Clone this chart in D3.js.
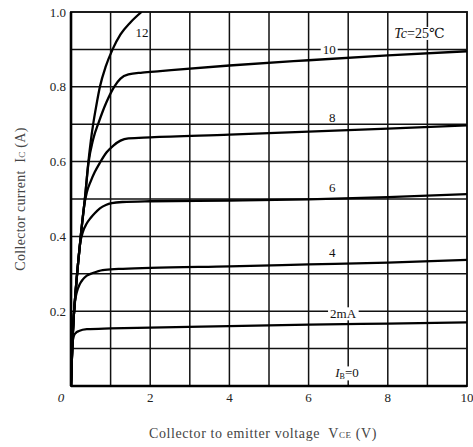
<!DOCTYPE html>
<html>
<head>
<meta charset="utf-8">
<script src="https://cdn.jsdelivr.net/npm/d3@7"></script>
<style>
body { margin: 0; background: #fff; }
svg { display: block; }
text { font-family: "Liberation Serif", "DejaVu Serif", serif; }
</style>
</head>
<body>
<svg width="473" height="447"></svg>
<script>
// tick labels
var vceTicks = [0, 2, 4, 6, 8, 10];
var icTicks = [0.2, 0.4, 0.6, 0.8, 1.0];

// Ic (A) vs Vce (V), one array per base current
var ib2 = [[0, 0], [0.02, 0.07], [0.04, 0.115], [0.07, 0.133], [0.12, 0.142], [0.2, 0.147], [0.4, 0.152], [1, 0.154], [2, 0.156], [4, 0.16], [6, 0.164], [8, 0.167], [10, 0.17]];
var ib4 = [[0, 0], [0.03, 0.1], [0.06, 0.17], [0.1, 0.225], [0.15, 0.252], [0.22, 0.272], [0.3, 0.285], [0.4, 0.295], [0.55, 0.302], [0.8, 0.31], [1.2, 0.313], [2, 0.316], [4, 0.32], [6, 0.325], [8, 0.33], [10, 0.337]];
var ib6 = [[0, 0], [0.03, 0.1], [0.06, 0.17], [0.1, 0.23], [0.18, 0.33], [0.23, 0.38], [0.3, 0.412], [0.4, 0.435], [0.5, 0.45], [0.6, 0.462], [0.73, 0.475], [0.88, 0.484], [1.03, 0.489], [1.3, 0.492], [2, 0.494], [4, 0.496], [6, 0.499], [8, 0.505], [10, 0.513]];
var ib8 = [[0, 0], [0.03, 0.1], [0.06, 0.17], [0.1, 0.23], [0.18, 0.33], [0.26, 0.415], [0.33, 0.48], [0.4, 0.518], [0.5, 0.548], [0.6, 0.572], [0.73, 0.597], [0.9, 0.625], [1.07, 0.643], [1.25, 0.656], [1.45, 0.662], [2, 0.665], [4, 0.672], [6, 0.68], [8, 0.688], [10, 0.697]];
var ib10 = [[0, 0], [0.03, 0.1], [0.06, 0.17], [0.1, 0.23], [0.18, 0.33], [0.26, 0.415], [0.35, 0.5], [0.44, 0.595], [0.56, 0.66], [0.7, 0.705], [0.9, 0.76], [1.09, 0.8], [1.25, 0.822], [1.45, 0.833], [1.8, 0.838], [2.25, 0.842], [4, 0.857], [6, 0.871], [8, 0.884], [10, 0.895]];
var ib12 = [[0, 0], [0.03, 0.1], [0.06, 0.17], [0.1, 0.23], [0.18, 0.33], [0.26, 0.415], [0.35, 0.5], [0.44, 0.6], [0.5, 0.655], [0.56, 0.7], [0.64, 0.75], [0.73, 0.8], [0.88, 0.855], [1.05, 0.9], [1.25, 0.94], [1.5, 0.972], [1.78, 1.0]];

var curveNames = ["2mA", "4", "6", "8", "10", "12"];
// where each name sits, in volts / amps
var namePos = [[6.87, 0.193], [6.6, 0.356], [6.6, 0.53], [6.6, 0.717], [6.52, 0.9], [1.79, 0.944]];

var svg = d3.select("svg"),
    x = d3.scaleLinear().domain([0, 10]).range([71, 467]),
    y = d3.scaleLinear().domain([0, 1]).range([386, 12]);

// grid
var grid = svg.append("g").attr("stroke", "#111").attr("stroke-width", 1.5);
grid.selectAll(".vg")
    .data(x.ticks(10).slice(1, -1))
    .enter().append("line")
    .attr("x1", function (d) { return x(d); })
    .attr("x2", function (d) { return x(d); })
    .attr("y1", y(0)).attr("y2", y(1));
grid.selectAll(".hg")
    .data(y.ticks(10).slice(1, -1))
    .enter().append("line")
    .attr("y1", function (d) { return y(d); })
    .attr("y2", function (d) { return y(d); })
    .attr("x1", x(0)).attr("x2", x(10));

// frame
svg.append("rect")
    .attr("x", x(0)).attr("y", y(1))
    .attr("width", x(10) - x(0)).attr("height", y(0) - y(1))
    .attr("fill", "none").attr("stroke", "#111").attr("stroke-width", 1.9);
svg.append("line")
    .attr("x1", x(0)).attr("x2", x(0)).attr("y1", y(0)).attr("y2", y(1))
    .attr("stroke", "#000").attr("stroke-width", 2.6);
svg.append("line")
    .attr("x1", x(0)).attr("x2", x(10)).attr("y1", y(0)).attr("y2", y(0))
    .attr("stroke", "#000").attr("stroke-width", 2.4);

// tick labels
svg.append("g").selectAll("text")
    .data(icTicks)
    .enter().append("text")
    .attr("x", 66)
    .attr("y", function (d) { return y(d) + 4.5; })
    .attr("text-anchor", "end")
    .attr("font-size", 13)
    .attr("fill", "#222")
    .text(d3.format(".1f"));
svg.append("g").selectAll("text")
    .data(vceTicks)
    .enter().append("text")
    .attr("x", function (d) { return d === 0 ? x(d) - 10 : x(d); })
    .attr("y", 402)
    .attr("text-anchor", "middle")
    .attr("font-size", 13)
    .attr("font-style", function (d) { return d === 0 ? "italic" : "normal"; })
    .attr("fill", "#222")
    .text(function (d) { return d; });

// axis titles
var yt = svg.append("text")
    .attr("transform", "translate(25,199) rotate(-90)")
    .attr("text-anchor", "middle")
    .attr("font-size", 14)
    .attr("letter-spacing", 0.3)
    .attr("fill", "#444");
yt.append("tspan").text("Collector current\u00a0\u00a0I");
yt.append("tspan").attr("font-size", 9).text("C");
yt.append("tspan").text(" (A)");

var xt = svg.append("text")
    .attr("x", 263).attr("y", 438)
    .attr("text-anchor", "middle")
    .attr("font-size", 14)
    .attr("letter-spacing", 0.6)
    .attr("fill", "#444");
xt.append("tspan").text("Collector to emitter voltage\u00a0\u00a0V");
xt.append("tspan").attr("font-size", 9).text("CE");
xt.append("tspan").text(" (V)");

// labels with a white box that cuts the grid
function boxed(t) {
    var b = t.node().getBBox();
    svg.insert("rect", function () { return t.node(); })
        .attr("x", b.x - 2).attr("y", b.y + 1)
        .attr("width", b.width + 4).attr("height", b.height - 2)
        .attr("fill", "#fff");
}

curveNames.forEach(function (n, i) {
    var t = svg.append("text")
        .attr("x", x(namePos[i][0]))
        .attr("y", y(namePos[i][1]) + 4.5)
        .attr("text-anchor", "middle")
        .attr("font-size", 13)
        .attr("fill", "#111")
        .text(n);
    if (n === "2mA" || n === "10") boxed(t);
});

var ib0 = svg.append("text")
    .attr("x", x(6.97)).attr("y", y(0.035) + 4.5)
    .attr("text-anchor", "middle")
    .attr("font-size", 13)
    .attr("fill", "#111");
ib0.append("tspan").attr("font-style", "italic").text("I");
ib0.append("tspan").attr("font-size", 8).attr("dy", 2).text("B");
ib0.append("tspan").attr("dy", -2).text("=0");
boxed(ib0);

var tc = svg.append("text")
    .attr("x", x(8.8)).attr("y", y(0.944) + 5)
    .attr("text-anchor", "middle")
    .attr("font-size", 14)
    .attr("fill", "#111");
tc.append("tspan").attr("font-style", "italic").text("Tc");
tc.append("tspan").text("=25\u2103");
boxed(tc);

// curves
svg.append("clipPath").attr("id", "plot")
    .append("rect")
    .attr("x", x(0)).attr("y", y(1))
    .attr("width", x(10) - x(0)).attr("height", y(0) - y(1));

var line = d3.line()
    .x(function (d) { return x(d[0]); })
    .y(function (d) { return y(d[1]); })
    .curve(d3.curveMonotoneX);

svg.append("g")
    .attr("clip-path", "url(#plot)")
    .selectAll("path")
    .data([ib2, ib4, ib6, ib8, ib10, ib12])
    .enter().append("path")
    .attr("d", line)
    .attr("fill", "none")
    .attr("stroke", "#000")
    .attr("stroke-width", 2.3);
</script>
</body>
</html>
